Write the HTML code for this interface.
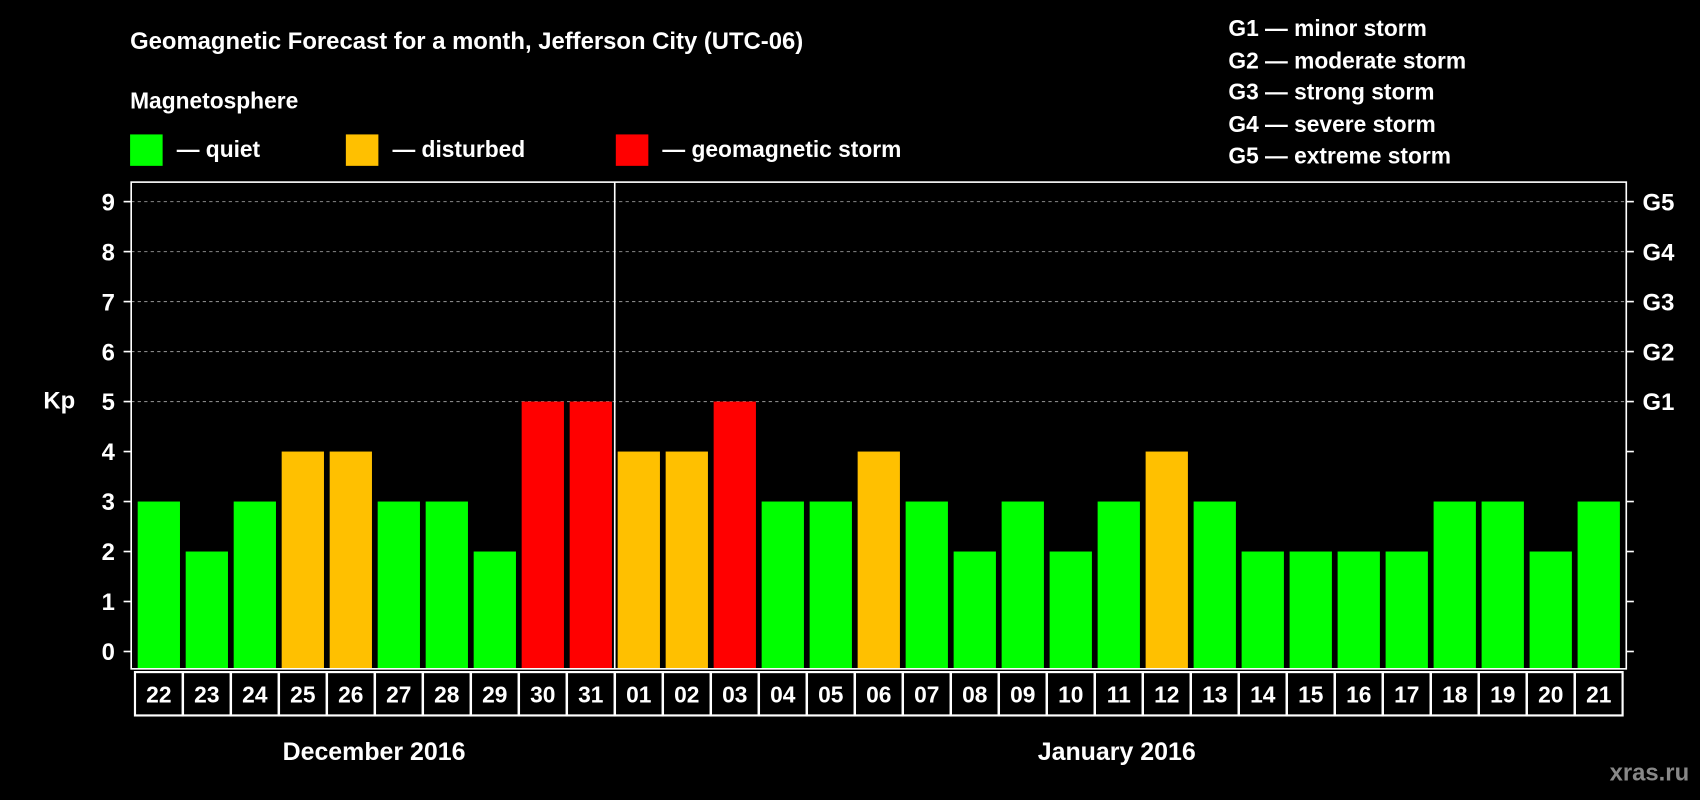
<!DOCTYPE html>
<html><head><meta charset="utf-8"><style>
html,body{margin:0;padding:0;background:#000;}
svg{display:block;font-family:"Liberation Sans",Arial,sans-serif;font-weight:bold;}
</style></head><body>
<svg id="chart" width="1700" height="800" viewBox="0 0 1568 738" preserveAspectRatio="none">
<rect width="1568" height="738" fill="#000"/>
<text x="120" y="45" fill="#fff" font-size="22">Geomagnetic Forecast for a month, Jefferson City (UTC-06)</text>
<text x="120" y="100" fill="#fff" font-size="21">Magnetosphere</text>
<g><rect x="120" y="124" width="30" height="29" fill="#00ff00"/><text x="163" y="145" fill="#fff" font-size="21">— quiet</text></g>
<g><rect x="319" y="124" width="30" height="29" fill="#ffc000"/><text x="362" y="145" fill="#fff" font-size="21">— disturbed</text></g>
<g><rect x="568" y="124" width="30" height="29" fill="#ff0000"/><text x="611" y="145" fill="#fff" font-size="21">— geomagnetic storm</text></g>
<g fill="#fff" font-size="21">
<text x="1133" y="33">G1 — minor storm</text><text x="1133" y="63">G2 — moderate storm</text><text x="1133" y="92">G3 — strong storm</text><text x="1133" y="122">G4 — severe storm</text><text x="1133" y="151">G5 — extreme storm</text>
</g>
<text x="40" y="377" fill="#fff" font-size="22">Kp</text>
<g id="grid"></g><g id="bars"></g><g id="axes"></g>
<text x="345" y="701" fill="#fff" font-size="23" text-anchor="middle">December 2016</text>
<text x="1030" y="701" fill="#fff" font-size="23" text-anchor="middle">January 2016</text>
<text x="1558" y="720" fill="#888" font-size="22" text-anchor="end">xras.ru</text>
</svg>
<script>
const days = ["22","23","24","25","26","27","28","29","30","31","01","02","03","04","05","06","07","08","09","10","11","12","13","14","15","16","17","18","19","20","21"];
const kpValues = [3,2,3,4,4,3,3,2,5,5,4,4,5,3,3,4,3,2,3,2,3,4,3,2,2,2,2,3,3,2,3];
const yTicks = [0,1,2,3,4,5,6,7,8,9];
const gLabels = ["G1","G2","G3","G4","G5"];
const gLevels = [5,6,7,8,9];
const NS="http://www.w3.org/2000/svg";
const L=121,R=1500,T=168,B=617,Y0=601,Y9=186;
const y=v=>Y0+(Y9-Y0)*v/9;
const step=44.27, x0=146.5;
const xc=i=>x0+i*step;
function mk(tag,attrs,parent){const e=document.createElementNS(NS,tag);for(const k in attrs)e.setAttribute(k,attrs[k]);parent.appendChild(e);return e;}
const grid=document.getElementById('grid'),bars=document.getElementById('bars'),axes=document.getElementById('axes');
gLevels.forEach((v,i)=>{
 const ln=mk('line',{x1:L,x2:R,y1:y(v),y2:y(v),stroke:'#888','stroke-dasharray':'3,3','stroke-width':1},grid);
 
 
 const t=mk('text',{x:1515,y:y(v)+8,fill:'#fff','font-size':22},axes);t.textContent=gLabels[i];
 
 
});
kpValues.forEach((v,i)=>{
 const c=v>=5?'#ff0000':(v>=4?'#ffc000':'#00ff00');
 const r=mk('rect',{x:xc(i)-19.5,y:y(v),width:39,height:B-y(v),fill:c},bars);
 
 
 const b=mk('rect',{x:xc(i)-22,y:620,width:44,height:40,fill:'none',stroke:'#fff','stroke-width':2},axes);
 
 
 const t=mk('text',{x:xc(i),y:648,fill:'#fff','font-size':21,'text-anchor':'middle'},axes);t.textContent=days[i];
 
 
});
const frame=mk('rect',{x:L,y:T,width:R-L,height:B-T,fill:'none',stroke:'#fff','stroke-width':1.5},axes);


const sep=mk('line',{x1:567,x2:567,y1:T,y2:B,stroke:'#fff','stroke-width':1.5},axes);


yTicks.forEach(v=>{
 mk('line',{x1:L-7,x2:L,y1:y(v),y2:y(v),stroke:'#fff','stroke-width':1.5},axes);
 mk('line',{x1:R,x2:R+7,y1:y(v),y2:y(v),stroke:'#fff','stroke-width':1.5},axes);
 const t=mk('text',{x:106,y:y(v)+8,fill:'#fff','font-size':22,'text-anchor':'end'},axes);t.textContent=v;
 
 
});
</script>
</body></html>
